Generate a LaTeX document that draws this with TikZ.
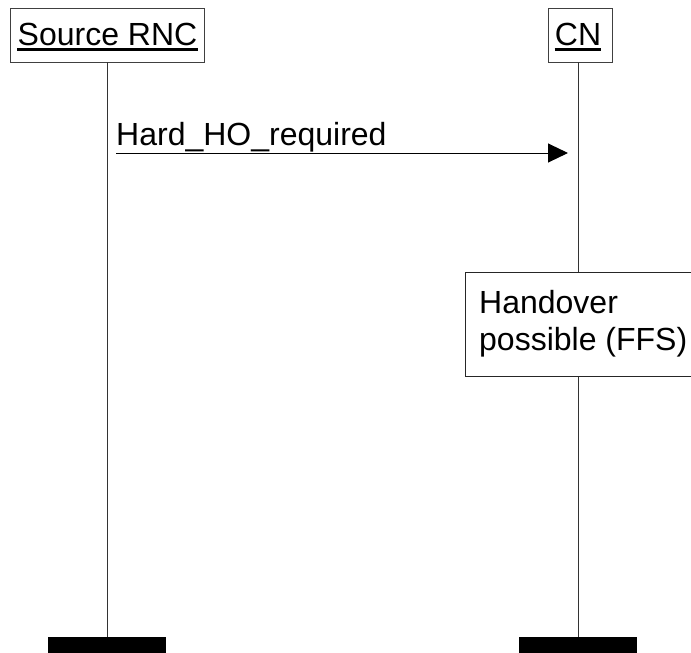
\documentclass[tikz,border=0pt]{standalone}
\usepackage{fontspec}
\setmainfont{Liberation Sans}
\usetikzlibrary{arrows.meta}
\begin{document}
\begin{tikzpicture}[x=1pt,y=-1pt,
  every node/.style={font=\fontsize{32}{37}\selectfont},
  headbox/.style={draw=black!75,line width=1pt,fill=white,inner sep=0pt},
  headtext/.style={anchor=base,inner sep=0pt},
  uline/.style={line width=3pt},
  lifeline/.style={draw=black!80,line width=1pt},
  endbar/.style={fill=black,draw=none},
  msg/.style={line width=1pt,-{Triangle[length=20pt,width=19pt]}},
  notebox/.style={draw=black!85,line width=1pt,fill=white}]
\useasboundingbox (0,0) rectangle (691,653);
% header boxes
\node[headbox,minimum width=194pt,minimum height=54pt] (src) at (107,35) {};
\node[headtext] (srct) at (107.5,45) {Source RNC};
\draw[uline] ([yshift=-4.5pt]srct.base west) -- ([yshift=-4.5pt]srct.base east);
\node[headbox,minimum width=64pt,minimum height=54pt] (cn) at (580,35) {};
\node[headtext] (cnt) at (578,45) {CN};
\draw[uline] ([yshift=-4.5pt]cnt.base west) -- ([yshift=-4.5pt]cnt.base east);
% end bars
\coordinate (srcend) at (107,637);
\coordinate (cnend) at (578,637);
\fill[endbar] (48,637) rectangle (166,653);
\fill[endbar] (519,637) rectangle (637,653);
% lifelines
\draw[lifeline] (107,62) -- (srcend);
\draw[lifeline] (578,62) -- (cnend);
% message
\coordinate (m1s) at (116,153);
\coordinate (m1e) at (568,153);
\draw[msg] (m1s) -- (m1e);
\node[anchor=base west,inner sep=0pt] (m1l) at (116,145) {Hard\_HO\_required};
% note box
\draw[notebox] (465,272) rectangle (720,376);
\node[anchor=base west,inner sep=0pt] (n1) at (479,313) {Handover};
\node[anchor=base west,inner sep=0pt] (n2) at (479,350) {possible (FFS)};
\end{tikzpicture}
\end{document}
